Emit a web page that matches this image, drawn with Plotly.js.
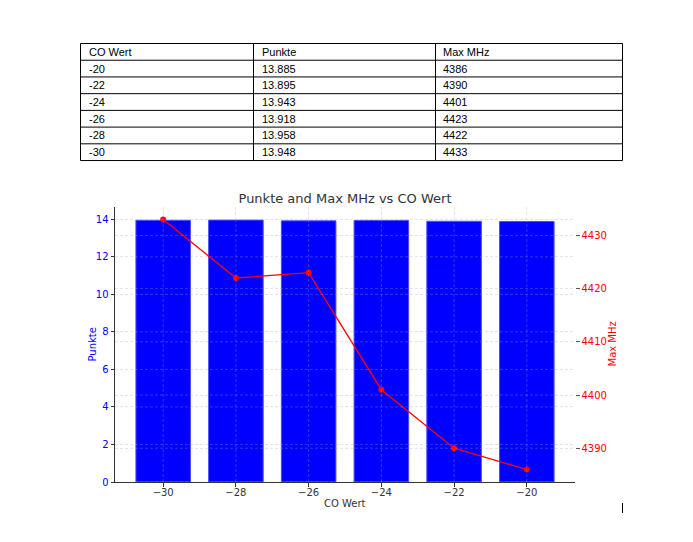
<!DOCTYPE html>
<html>
<head>
<meta charset="utf-8">
<script src="https://cdn.plot.ly/plotly-3.0.1.min.js"></script>
<style>html,body{margin:0;padding:0;background:#fff;}#chart{width:693px;height:542px;}</style>
</head>
<body>
<div id="chart"></div>
<script>
const coWert = [-20, -22, -24, -26, -28, -30];
const punkte = [13.885, 13.895, 13.943, 13.918, 13.958, 13.948];
const maxMHz = [4386, 4390, 4401, 4423, 4422, 4433];
const tableHeader = ["CO Wert", "Punkte", "Max MHz"];
const xTicks = [-30, -28, -26, -24, -22, -20];
const leftTicks = [0, 2, 4, 6, 8, 10, 12, 14];
const rightTicks = [4390, 4400, 4410, 4420, 4430];

const W = 693, H = 542;
const px = v => v / W;
const py = v => 1 - v / H;
const FONT = 'DejaVu Sans, sans-serif';

// table built from the data arrays
const tableRows = [tableHeader].concat(coWert.map((c, i) => [String(c), punkte[i].toFixed(3), String(maxMHz[i])]));
const colEdges = [80.5, 253.5, 435.5, 622.5];
const tTop = 43.5, rowH = 16.72;
const shapes = [];
const annotations = [];
const nRows = tableRows.length;
for (let r = 0; r <= nRows; r++) {
  const y = tTop + r * rowH;
  shapes.push({type: 'line', xref: 'paper', yref: 'paper', x0: px(colEdges[0]), x1: px(colEdges[3]), y0: py(y), y1: py(y), line: {color: '#000', width: 1}});
}
for (let c = 0; c < colEdges.length; c++) {
  shapes.push({type: 'line', xref: 'paper', yref: 'paper', x0: px(colEdges[c]), x1: px(colEdges[c]), y0: py(tTop), y1: py(tTop + nRows * rowH), line: {color: '#000', width: 1}});
}
tableRows.forEach((row, r) => {
  row.forEach((txt, c) => {
    annotations.push({
      text: txt, xref: 'paper', yref: 'paper', showarrow: false,
      x: px(colEdges[c] + 6), y: py(tTop + (r + 0.5) * rowH),
      xanchor: 'left', yanchor: 'middle',
      font: {family: 'Liberation Sans, Arial, sans-serif', size: 11, color: '#000'}
    });
  });
});
shapes.push({type: 'line', xref: 'paper', yref: 'paper', x0: px(622.5), x1: px(622.5), y0: py(503), y1: py(513), line: {color: '#000', width: 1}});

// faint grid drawn above the bars (as in the reference)
const overGrid = {color: 'rgba(220,220,220,0.3)', width: 0.8, dash: '3px,2px'};
xTicks.forEach(v => shapes.push({type: 'line', layer: 'above', xref: 'x', yref: 'y domain', x0: v, x1: v, y0: 0, y1: 1, line: overGrid}));
leftTicks.forEach(v => shapes.push({type: 'line', layer: 'above', xref: 'x domain', yref: 'y', x0: 0, x1: 1, y0: v, y1: v, line: overGrid}));
rightTicks.forEach(v => shapes.push({type: 'line', layer: 'above', xref: 'x domain', yref: 'y2', x0: 0, x1: 1, y0: v, y1: v, line: overGrid}));

// axis titles
annotations.push({text: 'Punkte', xref: 'paper', yref: 'paper', x: px(92), y: py(344.5), xanchor: 'center', yanchor: 'middle', textangle: -90, showarrow: false, font: {family: FONT, size: 10, color: '#0000ff'}});
annotations.push({text: 'Max MHz', xref: 'paper', yref: 'paper', x: px(612), y: py(344.5), xanchor: 'center', yanchor: 'middle', textangle: -90, showarrow: false, font: {family: FONT, size: 10, color: '#ff0000'}});
annotations.push({text: 'CO Wert', xref: 'paper', yref: 'paper', x: px(345), y: py(503), xanchor: 'center', yanchor: 'middle', showarrow: false, font: {family: FONT, size: 10, color: '#333'}});

const barTrace = {
  type: 'bar',
  x: coWert,
  y: punkte,
  width: 1.5,
  marker: {color: '#0000ff', line: {color: '#4d4dff', width: 1}},
  xaxis: 'x', yaxis: 'y',
  hoverinfo: 'skip'
};

const lineTrace = {
  type: 'scatter',
  mode: 'lines+markers',
  x: coWert,
  y: maxMHz,
  line: {color: '#ff0000', width: 1.3},
  marker: {color: '#ff0000', size: 6},
  xaxis: 'x', yaxis: 'y2',
  hoverinfo: 'skip'
};

const gridColor = '#e0e0e0';
const layout = {
  width: W, height: H,
  margin: {l: 0, r: 0, t: 0, b: 0},
  paper_bgcolor: '#fff', plot_bgcolor: '#fff',
  showlegend: false,
  font: {family: FONT, size: 10, color: '#333'},
  title: {
    text: 'Punkte and Max MHz vs CO Wert',
    font: {family: FONT, size: 13, color: '#333'},
    x: px(345), xref: 'paper', xanchor: 'center',
    y: py(198), yref: 'paper', yanchor: 'middle'
  },
  xaxis: {
    domain: [px(115), px(575)],
    range: [-31.325, -18.675],
    tickvals: xTicks,
    ticks: 'outside', ticklen: 3.5, tickcolor: '#333',
    ticklabelstandoff: -3,
    showline: true, linecolor: '#333', linewidth: 1,
    showgrid: true, gridcolor: gridColor, griddash: '3px,2px', gridwidth: 0.8,
    zeroline: false,
    tickfont: {family: FONT, size: 10, color: '#333'},
    anchor: 'y'
  },
  yaxis: {
    domain: [py(482), py(207)],
    range: [0, 14.656],
    tickvals: leftTicks,
    ticks: 'outside', ticklen: 3.5, tickcolor: '#333',
    showline: true, linecolor: '#333', linewidth: 1,
    showgrid: true, gridcolor: gridColor, griddash: '3px,2px', gridwidth: 0.8,
    zeroline: false,
    tickfont: {family: FONT, size: 10, color: '#0000ff'},
    anchor: 'x'
  },
  yaxis2: {
    overlaying: 'y', side: 'right', anchor: 'x',
    range: [4383.65, 4435.35],
    tickvals: rightTicks,
    ticks: 'outside', ticklen: 3.5, tickcolor: '#555',
    ticklabelstandoff: 0,
    showline: false,
    showgrid: true, gridcolor: gridColor, griddash: '3px,2px', gridwidth: 0.8,
    zeroline: false,
    tickfont: {family: FONT, size: 10, color: '#ff0000'}
  },
  shapes: shapes,
  annotations: annotations
};

Plotly.newPlot('chart', [barTrace, lineTrace], layout, {displayModeBar: false, staticPlot: true});
</script>
</body>
</html>
